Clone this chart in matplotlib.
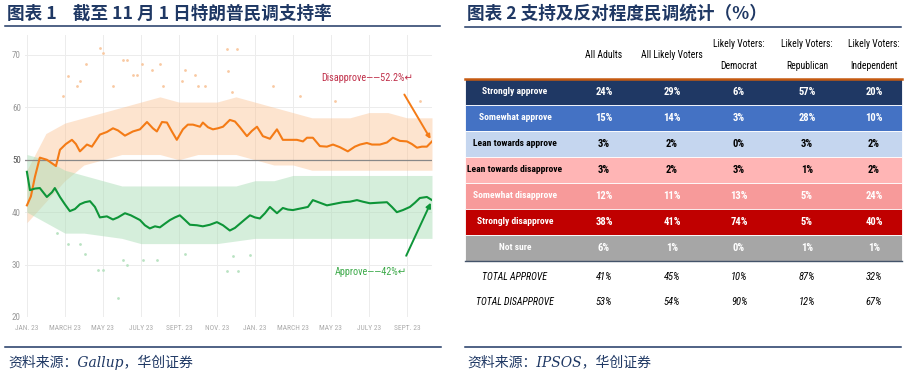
import numpy as np
import matplotlib
matplotlib.use('Agg')
import matplotlib.pyplot as plt
from matplotlib.patches import Rectangle

# ---------------- data: left chart (months since Jan) ----------------
dis_month = [0.00, 0.21, 0.42, 0.68, 1.05, 1.37, 1.53, 1.74, 2.05, 2.37, 2.58, 2.79, 3.16, 3.42,
             3.84, 4.21, 4.53, 4.79, 5.16, 5.58, 5.95, 6.32, 6.63, 6.84, 7.11, 7.37, 7.63, 7.89,
             8.21, 8.47, 8.74, 9.11, 9.26, 9.53, 9.79, 10.05, 10.32, 10.68, 10.95, 11.21, 11.58,
             11.84, 12.11, 12.42, 12.79, 13.16, 13.47, 13.84, 14.21, 14.53, 14.74, 15.05, 15.42,
             15.79, 16.11, 16.47, 16.89, 17.26, 17.53, 17.89, 18.16, 18.58, 18.95, 19.26, 19.63,
             20.00, 20.26, 20.53, 20.79, 21.05, 21.32]
dis_value = [41.3, 43.0, 46.7, 50.4, 50.0, 49.2, 48.8, 51.9, 53.0, 53.8, 53.0, 51.6, 52.9, 52.5,
             54.8, 55.3, 56.0, 55.6, 54.6, 55.4, 55.8, 57.2, 56.0, 55.4, 57.2, 57.1, 55.4, 53.8,
             55.8, 56.7, 56.7, 56.3, 57.1, 56.2, 55.8, 56.0, 56.3, 57.6, 57.3, 56.2, 54.5,
             55.5, 56.3, 54.5, 54.0, 55.8, 53.8, 53.8, 53.8, 53.5, 54.2, 54.2, 52.6,
             52.5, 52.9, 52.4, 51.6, 52.5, 52.9, 53.2, 52.9, 52.9, 53.3, 54.2, 53.6,
             53.5, 53.0, 52.3, 52.5, 52.5, 53.5]

app_month = [0.00, 0.16, 0.42, 0.68, 1.05, 1.32, 1.47, 1.74, 2.00, 2.26, 2.53, 2.79, 3.05, 3.32,
             3.58, 3.84, 4.21, 4.53, 4.79, 5.16, 5.47, 5.79, 5.95, 6.21, 6.47, 6.74, 7.00, 7.26,
             7.53, 7.79, 8.05, 8.32, 8.58, 8.95, 9.26, 9.63, 10.00, 10.32, 10.68, 10.95, 11.21,
             11.47, 11.74, 12.00, 12.26, 12.53, 12.79, 13.16, 13.47, 13.74, 14.00, 14.26, 14.53,
             14.79, 15.05, 15.42, 15.79, 16.21, 16.63, 17.00, 17.37, 17.68, 18.05, 18.47, 18.95,
             19.21, 19.47, 19.79, 20.16, 20.42, 20.68, 21.05, 21.32]
app_value = [47.7, 44.2, 44.5, 44.6, 42.9, 43.8, 44.6, 42.9, 41.5, 40.2, 40.6, 41.5, 41.9, 42.1,
             41.0, 39.0, 39.2, 38.6, 39.0, 39.8, 39.4, 38.8, 38.5, 37.5, 36.9, 37.3, 37.1, 37.8,
             38.5, 39.0, 39.4, 38.5, 37.6, 37.5, 37.3, 37.6, 38.1, 37.5, 36.5, 37.0, 37.8,
             38.6, 39.4, 39.0, 38.8, 39.8, 41.0, 39.8, 40.8, 40.5, 40.4, 40.6, 40.8,
             41.0, 42.3, 41.8, 41.3, 41.6, 41.9, 42.0, 42.3, 42.0, 41.7, 41.8, 41.9,
             41.0, 40.0, 40.4, 41.0, 41.8, 42.7, 42.9, 42.3]

band_month = [0, 1, 2, 3, 4, 5, 6, 7, 8, 9, 10, 11, 12, 13, 14, 15, 16, 17, 18, 19, 20, 21.32]
dis_band_hi = [48, 55, 57, 58, 59, 60, 61, 62, 61, 61, 61, 62, 61, 60, 59, 58, 58, 58, 59, 59, 58, 58]
dis_band_lo = [38, 42, 46, 49, 50, 51, 51, 51, 50, 51, 51, 51, 50, 49, 49, 48, 48, 48, 48, 48, 48, 48]
app_band_hi = [51, 50, 48, 47, 46, 45, 45, 45, 45, 45, 45, 45, 46, 46, 47, 47, 47, 47, 47, 47, 47, 47]
app_band_lo = [40, 38, 36, 36, 35.5, 35, 34, 34, 34, 34, 34, 34.5, 35, 35, 35, 35, 35, 35, 35, 35, 35, 35]

dis_out_month = [3.84, 4.0, 5.05, 5.26, 3.11, 2.16, 2.79, 2.63, 1.89, 4.53, 6.05, 6.58, 7.0, 5.58,
                 5.79, 7.16, 8.32, 8.16, 8.84, 9.0, 9.37, 10.53, 11.05, 10.58, 10.79, 12.95,
                 14.37, 16.21, 20.68]
dis_out_value = [71.3, 70.4, 69.0, 69.0, 68.3, 66.0, 65.0, 64.0, 62.1, 64.0, 68.3, 67.1, 68.3, 66.1,
                 66.1, 64.0, 67.1, 65.0, 66.1, 64.0, 64.0, 71.2, 71.2, 67.0, 63.0, 64.0,
                 62.1, 61.2, 61.2]
app_out_month = [4.79, 3.74, 4.0, 5.26, 3.05, 5.05, 6.84, 6.11, 2.16, 2.79, 1.58, 8.32, 10.53,
                 11.11, 10.84, 11.74]
app_out_value = [23.7, 29.0, 29.0, 30.0, 32.1, 30.9, 30.9, 30.9, 34.0, 34.0, 36.0, 32.1, 28.8,
                 28.8, 31.7, 31.9]

xtick_month = [0, 2, 4, 6, 8, 10, 12, 14, 16, 18, 20]
xtick_labels = ['JAN. 23', 'MARCH 23', 'MAY 23', 'JULY 23', 'SEPT. 23', 'NOV. 23',
                'JAN. 23', 'MARCH 23', 'MAY 23', 'JULY 23', 'SEPT. 23']
ytick_values = [20, 30, 40, 50, 60, 70]

# ---------------- data: right table ----------------
col_headers = ['All Adults', 'All Likely Voters', 'Likely Voters:\nDemocrat',
               'Likely Voters:\nRepublican', 'Likely Voters:\nIndependent']
row_labels = ['Strongly approve', 'Somewhat approve', 'Lean towards approve',
              'Lean towards disapprove', 'Somewhat disapprove', 'Strongly disapprove', 'Not sure']
strongly_approve = [24, 29, 6, 57, 20]
somewhat_approve = [15, 14, 3, 28, 10]
lean_approve = [3, 2, 0, 3, 2]
lean_disapprove = [3, 2, 3, 1, 2]
somewhat_disapprove = [12, 11, 13, 5, 24]
strongly_disapprove = [38, 41, 74, 5, 40]
not_sure = [6, 1, 0, 1, 1]
total_labels = ['TOTAL APPROVE', 'TOTAL DISAPPROVE']
total_approve = [41, 45, 10, 87, 32]
total_disapprove = [53, 54, 90, 12, 67]

row_values = [strongly_approve, somewhat_approve, lean_approve, lean_disapprove,
              somewhat_disapprove, strongly_disapprove, not_sure]
row_fill = ['#1F3864', '#4472C4', '#C5D6EF', '#FFB5B5', '#F79A9A', '#C00000', '#A6A6A6']
row_text = ['white', 'white', 'black', 'black', 'white', 'white', 'white']

NAVY = '#1F3864'
NARROW = ['Roboto Condensed', 'Open Sans Condensed', 'Liberation Sans Narrow', 'Roboto', 'DejaVu Sans']
CJK = ['Noto Sans CJK SC', 'DejaVu Sans']
SRC = ['DejaVu Serif', 'Noto Sans CJK SC']

W, H = 913, 380
fig = plt.figure(figsize=(W / 100, H / 100), dpi=100)
fig.patch.set_facecolor('white')

# ---------------- left chart ----------------
ax = fig.add_axes([25 / W, 1 - 317 / H, 407 / W, (317 - 35) / H])
ax.set_xlim(-0.1, 21.32)
ax.set_ylim(20, 73.8)
for s in ax.spines.values():
    s.set_visible(False)
ax.set_yticks(ytick_values)
ax.set_xticks(xtick_month)
ax.set_xticklabels(xtick_labels, family=NARROW, fontsize=5.3, color='#aaaaaa')
ax.set_yticklabels([str(v) for v in ytick_values], family=NARROW, fontsize=6.5, color='#999999')
ax.get_yticklabels()[3].set_color('#555555')
ax.tick_params(length=0, pad=6)
ax.tick_params(axis='y', pad=3)
ax.grid(True, color='#ececec', lw=0.7)
ax.set_axisbelow(True)

ax.fill_between(band_month, dis_band_lo, dis_band_hi, color='#fbbf8e', alpha=0.42, lw=0, zorder=1)
ax.fill_between(band_month, app_band_lo, app_band_hi, color='#a9dcb5', alpha=0.48, lw=0, zorder=1)
ax.scatter(dis_out_month, dis_out_value, s=4, color='#f9c9a2', lw=0, zorder=2)
ax.scatter(app_out_month, app_out_value, s=4, color='#b9e2c2', lw=0, zorder=2)
ax.axhline(50, color='#888888', lw=0.9, zorder=3)
ax.axvline(21.32, color='#cccccc', lw=0.6, ls=':', zorder=3)

ax.plot(dis_month, dis_value, color='#F47B16', lw=1.5, zorder=5)
ax.plot(app_month, app_value, color='#0E9538', lw=1.5, zorder=5)

ax.annotate('', xy=(dis_month[-1], dis_value[-1]), xytext=(19.79, 62.9),
            arrowprops=dict(arrowstyle='-|>', color='#F47B16', lw=1.4, mutation_scale=6), zorder=6)
ax.annotate('', xy=(app_month[-1], app_value[-1]), xytext=(19.9, 31.2),
            arrowprops=dict(arrowstyle='-|>', color='#0E9538', lw=1.4, mutation_scale=7), zorder=6)
ax.text(15.5, 65.6, 'Disapprove——52.2%\u21b5', family=NARROW, fontsize=7.4, color='#C0304A',
        ha='left', va='center', zorder=6)
ax.text(16.2, 28.5, 'Approve——42%\u21b5', family=NARROW, fontsize=7.4, color='#3DAA4A',
        ha='left', va='center', zorder=6)

# ---------------- overlay for titles and table ----------------
ov = fig.add_axes([0, 0, 1, 1])
ov.set_xlim(0, W)
ov.set_ylim(H, 0)
ov.axis('off')
ov.patch.set_alpha(0)

ov.text(7, 14, '图表 1    截至 11 月 1 日特朗普民调支持率', family=CJK, fontweight='bold',
        fontsize=12.7, color=NAVY, ha='left', va='center')
ov.text(467, 14, '图表 2 支持及反对程度民调统计（%）', family=CJK, fontweight='bold',
        fontsize=12.7, color=NAVY, ha='left', va='center')
ov.plot([5, 440], [26, 26], color=NAVY, lw=1.1)
ov.plot([465, 901], [27, 27], color=NAVY, lw=1.1)
ov.plot([5, 441], [347, 347], color=NAVY, lw=1.1)
ov.plot([465, 901], [347, 347], color=NAVY, lw=1.1)
ov.text(8, 362, '资料来源：Gallup，华创证券', family=SRC,
        style='italic', fontsize=10, color=NAVY, ha='left', va='center')
ov.text(467, 362, '资料来源：IPSOS，华创证券', family=SRC,
        style='italic', fontsize=10, color=NAVY, ha='left', va='center')

# table geometry
col_x = [604, 672, 739, 807, 874]
label_x = 515
tab_left, tab_right = 465, 902
top = 79
rh = 26.0
FS_HDR = 6.9
FS_LAB = 6.8
FS_VAL = 7.6

for cx, hdr in zip(col_x, col_headers):
    ov.text(cx, 55, hdr, family=NARROW, fontsize=FS_HDR, color='black', ha='center', va='center',
            linespacing=2.4)
ov.plot([tab_left, tab_right], [top - 0.5, top - 0.5], color='#C55A11', lw=1.8)

for i, (lab, vals) in enumerate(zip(row_labels, row_values)):
    y0 = top + i * rh
    ov.add_patch(Rectangle((tab_left, y0), tab_right - tab_left, rh, facecolor=row_fill[i],
                           edgecolor='white', lw=0.6))
    yc = y0 + rh / 2
    ov.text(label_x, yc, lab, family=NARROW, fontsize=FS_LAB, fontweight='bold', color=row_text[i],
            ha='center', va='center')
    for cx, v in zip(col_x, vals):
        ov.text(cx, yc, f'{v}%', family=NARROW, fontsize=FS_VAL, fontweight='bold',
                color=row_text[i], ha='center', va='center')
ov.plot([tab_left, tab_right], [top + 7 * rh, top + 7 * rh], color='#44546A', lw=1.0)

for j, (lab, vals) in enumerate(zip(total_labels, [total_approve, total_disapprove])):
    yc = 277 + j * 25
    ov.text(label_x, yc, lab, family=NARROW, fontsize=FS_LAB + 0.3, style='italic', color='black',
            ha='center', va='center')
    for cx, v in zip(col_x, vals):
        ov.text(cx, yc, f'{v}%', family=NARROW, fontsize=FS_VAL, style='italic', color='black',
                ha='center', va='center')

fig.savefig('out.png', dpi=100, facecolor='white')
